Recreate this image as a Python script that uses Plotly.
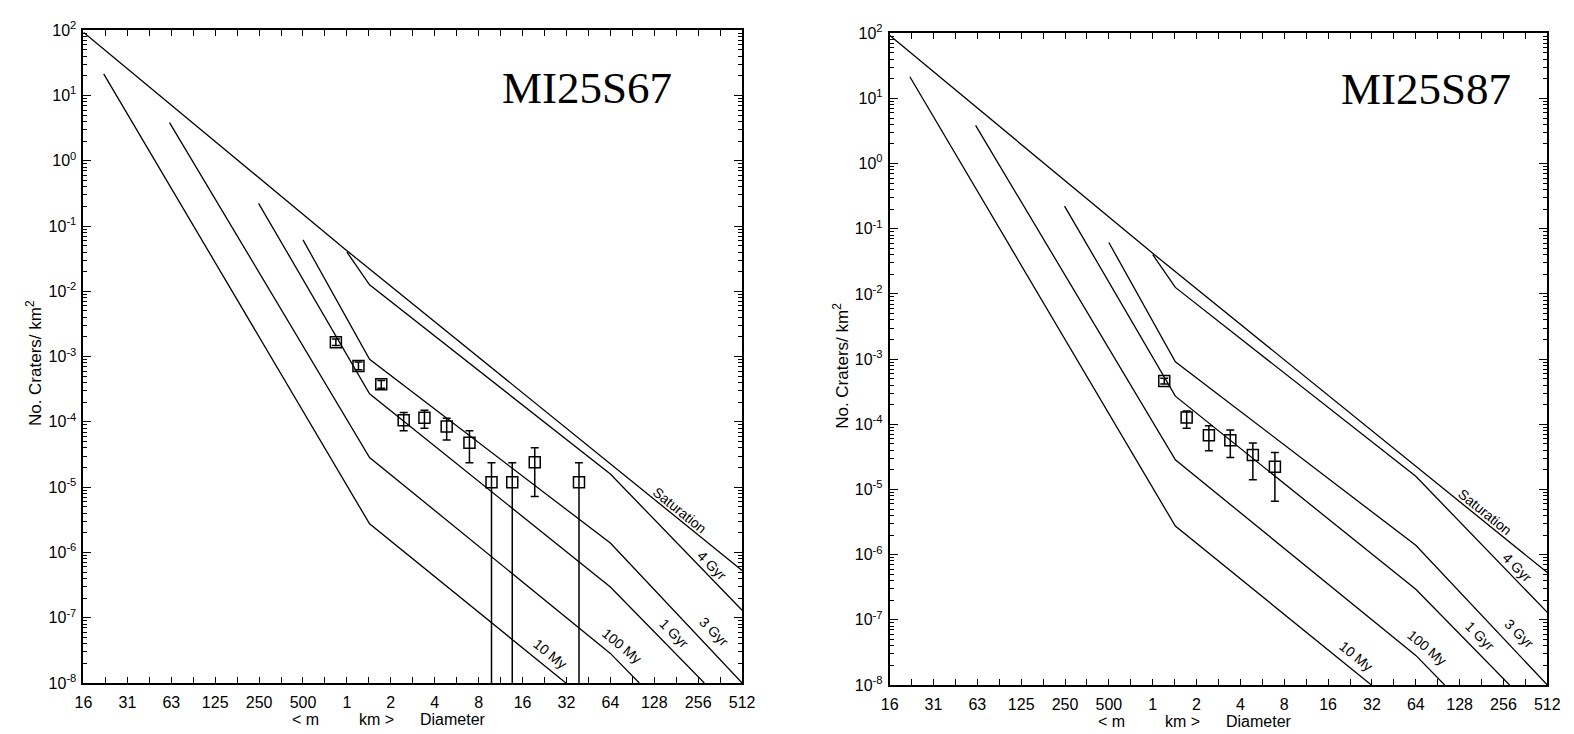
import math
import plotly.graph_objects as go

# ---------------- data (diameter in km, cumulative density per km^2) ----------------
X_TICK_VALS = [2 ** k for k in range(-6, 10)]
X_TICK_TEXT = ["16", "31", "63", "125", "250", "500", "1", "2", "4", "8",
               "16", "32", "64", "128", "256", "512"]
Y_TICK_EXP = list(range(-8, 3))

sat_D = [0.0156, 1.0, 512]
sat_N = [93, 0.042, 5.3e-7]

gyr4_D = [1.0, 1.43, 64, 512]
gyr4_N = [0.04, 0.0126, 1.59e-5, 1.3e-7]

gyr3_D = [0.5, 1.43, 64, 512]
gyr3_N = [0.0615, 9.1e-4, 1.39e-6, 1e-8]

gyr1_D = [0.248, 1.43, 64, 282]
gyr1_N = [0.223, 2.7e-4, 2.95e-7, 1e-8]

my100_D = [0.0608, 1.43, 64, 101]
my100_N = [3.85, 2.85e-5, 2.84e-8, 1e-8]

my10_D = [0.0215, 1.43, 31.7]
my10_N = [21.5, 2.74e-6, 1e-8]

# MI25S67 crater counts
s67_D = [0.84, 1.2, 1.72, 2.45, 3.4, 4.83, 6.92, 9.8, 13.6, 19.4, 39]
s67_N = [1.66e-3, 7.2e-4, 3.76e-4, 1.06e-4, 1.16e-4, 8.5e-5, 4.8e-5, 1.19e-5, 1.19e-5, 2.4e-5, 1.19e-5]
s67_hi = [1.86e-3, 8.3e-4, 4.3e-4, 1.39e-4, 1.51e-4, 1.14e-4, 7.3e-5, 2.37e-5, 2.37e-5, 4.0e-5, 2.37e-5]
s67_lo = [1.48e-3, 6.3e-4, 3.27e-4, 7.3e-5, 8.0e-5, 5.26e-5, 2.37e-5, 0, 0, 7.2e-6, 0]

# MI25S87 crater counts
s87_D = [1.2, 1.71, 2.43, 3.41, 4.87, 6.9]
s87_N = [4.6e-4, 1.27e-4, 6.8e-5, 5.7e-5, 3.37e-5, 2.23e-5]
s87_hi = [5.1e-4, 1.60e-4, 9.5e-5, 8.2e-5, 5.14e-5, 3.69e-5]
s87_lo = [4.15e-4, 8.7e-5, 3.92e-5, 3.1e-5, 1.41e-5, 6.6e-6]

curves = [
    ("Saturation", sat_D, sat_N),
    ("4 Gyr", gyr4_D, gyr4_N),
    ("3 Gyr", gyr3_D, gyr3_N),
    ("1 Gyr", gyr1_D, gyr1_N),
    ("100 My", my100_D, my100_N),
    ("10 My", my10_D, my10_N),
]

# curve label positions (D, N) and angle
curve_labels = [
    ("Saturation", 191, 4.49e-6, 39),
    ("4 Gyr", 322, 6.3e-7, 45),
    ("3 Gyr", 331, 6.1e-8, 45),
    ("1 Gyr", 177, 5.7e-8, 45),
    ("100 My", 76.9, 3.7e-8, 40),
    ("10 My", 24.8, 2.77e-8, 39),
]

W, H = 1574, 734
# page calibration: rendered pixel = OFF + frac * SPAN
OFF_X, SPAN_X = 10.9, 1567.0
OFF_Y, SPAN_Y = 16.7, 716.5


def fx(px):
    return (px - OFF_X) / SPAN_X


def fy(py):
    return 1 - (py - OFF_Y) / SPAN_Y


panels = [
    dict(name="MI25S67", D=s67_D, N=s67_N, hi=s67_hi, lo=s67_lo,
         box=(78, 743, 28, 683), title_xy=(0.764, 0.912)),
    dict(name="MI25S87", D=s87_D, N=s87_N, hi=s87_hi, lo=s87_lo,
         box=(892, 1556, 31, 685), title_xy=(0.816, 0.914)),
]

Y_RANGE = [-8, 2]
X_RANGE = [math.log10(2 ** -6), math.log10(2 ** 9)]

fig = go.Figure()
annotations = []
FONT = "Liberation Sans, Arial, sans-serif"
TICKFONT = "Liberation Sans Narrow, Arial Narrow, Liberation Sans, Arial, sans-serif"

x_minor = [2 ** (k + 0.5) for k in range(-6, 9)]
y_minor = [m * 10 ** k for k in range(-8, 2) for m in range(2, 10)]

for i, p in enumerate(panels):
    sfx = "" if i == 0 else str(i + 1)
    xa, ya = "x" + sfx, "y" + sfx
    for name, d, n in curves:
        fig.add_trace(go.Scatter(x=d, y=n, mode="lines", xaxis=xa, yaxis=ya,
                                 line=dict(color="black", width=1.3),
                                 showlegend=False, hoverinfo="skip"))
    floor = 10 ** (Y_RANGE[0] - 1)
    plus = [h - v for h, v in zip(p["hi"], p["N"])]
    minus = [v - (l if l > 0 else floor) for l, v in zip(p["lo"], p["N"])]
    fig.add_trace(go.Scatter(
        x=p["D"], y=p["N"], mode="markers", xaxis=xa, yaxis=ya,
        marker=dict(symbol="square-open", size=11, color="black",
                    line=dict(width=1.5, color="black")),
        error_y=dict(type="data", symmetric=False, array=plus, arrayminus=minus,
                     color="black", thickness=1.5, width=4),
        showlegend=False))

    x0, x1, y0, y1 = p["box"]
    xdom = [fx(x0), fx(x1)]
    ydom = [fy(y1), fy(y0)]
    axis_common = dict(showline=True, linecolor="black", linewidth=1.8, mirror="ticks",
                       ticks="inside", tickcolor="black", tickwidth=1.3,
                       showgrid=False, zeroline=False,
                       tickfont=dict(family=TICKFONT, size=16, color="black"))
    fig.layout["xaxis" + sfx] = dict(
        type="log", domain=xdom, range=X_RANGE, anchor=ya,
        tickmode="array", tickvals=X_TICK_VALS, ticktext=X_TICK_TEXT, ticklen=6,
        ticklabelstandoff=4,
        minor=dict(tickmode="array", tickvals=x_minor, ticks="inside", ticklen=6,
                   tickwidth=1.3, tickcolor="black", showgrid=False),
        **axis_common)
    fig.layout["yaxis" + sfx] = dict(
        type="log", domain=ydom, range=Y_RANGE, anchor=xa,
        tickmode="array", tickvals=[10 ** k for k in Y_TICK_EXP],
        ticktext=["10<sup>%d</sup>" % k for k in Y_TICK_EXP], ticklen=8,
        ticklabelstandoff=2,
        minor=dict(tickmode="array", tickvals=y_minor, ticks="inside", ticklen=4,
                   tickwidth=1.0, tickcolor="black", showgrid=False),
        **axis_common)

    xr, yr = xa + " domain", ya + " domain"
    tx, ty = p["title_xy"]
    annotations.append(dict(text=p["name"], xref=xr, yref=yr, x=tx, y=ty,
                            showarrow=False, xanchor="center", yanchor="middle",
                            font=dict(family="Liberation Serif, Times New Roman, serif",
                                      size=45, color="black")))
    annotations.append(dict(text="No. Craters/ km<sup>2</sup>", xref=xr, yref=yr,
                            x=-50 / 665, y=0.49, textangle=-90, showarrow=False,
                            xanchor="center", yanchor="middle",
                            font=dict(family=FONT, size=17, color="black")))
    for txt, fxx in [("&lt; m", 0.337), ("km &gt;", 0.445), ("Diameter", 0.561)]:
        annotations.append(dict(text=txt, xref=xr, yref=yr, x=fxx, y=-0.0565,
                                showarrow=False, xanchor="center", yanchor="middle",
                                font=dict(family=FONT, size=16, color="black")))
    for txt, d, n, ang in curve_labels:
        annotations.append(dict(text=txt, xref=xa, yref=ya, x=math.log10(d),
                                y=math.log10(n), textangle=ang, showarrow=False,
                                xanchor="center", yanchor="middle",
                                font=dict(family=FONT, size=14, color="black")))

fig.update_layout(width=W, height=H, margin=dict(l=0, r=0, t=0, b=0),
                  paper_bgcolor="white", plot_bgcolor="white",
                  annotations=annotations, showlegend=False)
fig.write_html("out.html")
